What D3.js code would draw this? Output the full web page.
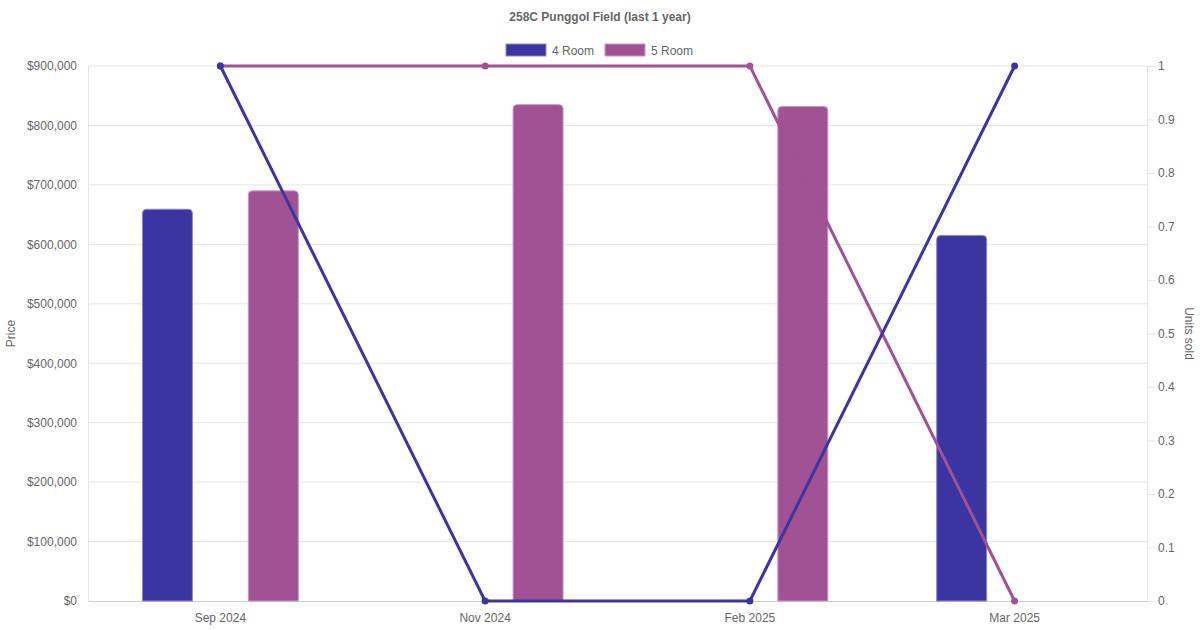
<!DOCTYPE html>
<html><head><meta charset="utf-8">
<script src="https://cdn.jsdelivr.net/npm/d3@7"></script>
<style>
html,body{margin:0;padding:0;background:#fff;}
text{font-family:"Liberation Sans",Arial,Helvetica,sans-serif;}
</style></head>
<body><svg id="chart" width="1200" height="630"></svg>
<script>
const title = "258C Punggol Field (last 1 year)";
const categories = ["Sep 2024", "Nov 2024", "Feb 2025", "Mar 2025"];
const seriesNames = ["4 Room", "5 Room"];
const price4Room = [659000, null, null, 615000];
const price5Room = [690000, 835000, 832000, null];
const units4Room = [1, 0, 0, 1];
const units5Room = [1, 1, 1, 0];
const priceTicks = [0,100000,200000,300000,400000,500000,600000,700000,800000,900000];
const unitTicks = [0,0.1,0.2,0.3,0.4,0.5,0.6,0.7,0.8,0.9,1];
const colors = ["#3a35a0", "#a05294"];
const borderColors = ["#8d89cc", "#c99bc1"];

const svg = d3.select("#chart");
const pL = 88, pR = 1147, pT = 66, pB = 601;

const x = d3.scaleBand().domain(categories).range([pL, pR]).padding(0);
const yP = d3.scaleLinear().domain([0, 900000]).range([pB, pT]);
const yU = d3.scaleLinear().domain([0, 1]).range([pB, pT]);
const group = d3.scaleBand().domain(seriesNames).range([0, x.bandwidth()*0.8]);
const barW = Math.min(group.bandwidth()*0.9, 50);

// grid lines
svg.append("g").selectAll("line").data(priceTicks.slice(1)).join("line")
  .attr("x1", pL).attr("x2", pR)
  .attr("y1", d=>yP(d)).attr("y2", d=>yP(d))
  .attr("stroke", "#e5e5e5").attr("stroke-width", 1);

// left axis
const axL = svg.append("g").attr("transform", `translate(${pL},0)`)
  .call(d3.axisLeft(yP).tickValues(priceTicks).tickSize(0).tickPadding(11)
    .tickFormat(d => "$" + d3.format(",")(d)));
axL.select(".domain").attr("stroke", "#e5e5e5");
axL.selectAll("text").attr("fill", "#666").attr("font-size", 12);

// right axis
const axR = svg.append("g").attr("transform", `translate(${pR},0)`)
  .call(d3.axisRight(yU).tickValues(unitTicks).tickSize(8).tickPadding(3)
    .tickFormat(d => d3.format("~g")(d)));
axR.select(".domain").attr("stroke", "#e5e5e5");
axR.selectAll("line").attr("stroke", "#e5e5e5");
axR.selectAll("text").attr("fill", "#666").attr("font-size", 12);

// bottom axis
const axB = svg.append("g").attr("transform", `translate(0,${pB})`)
  .call(d3.axisBottom(x).tickSize(0).tickPadding(12));
axB.select(".domain").attr("stroke", "#cccccc");
axB.selectAll("text").attr("fill", "#666").attr("font-size", 12);

// axis titles
svg.append("text").attr("transform", `translate(15,${(pT+pB)/2}) rotate(-90)`)
  .attr("text-anchor", "middle").attr("fill", "#666").attr("font-size", 12).text("Price");
svg.append("text").attr("transform", `translate(1185,${(pT+pB)/2}) rotate(90)`)
  .attr("text-anchor", "middle").attr("fill", "#666").attr("font-size", 12).text("Units sold");

// bars
function roundTopPath(x0, y0, w, h, r) {
  r = Math.min(r, h, w/2);
  return `M${x0},${y0+h} L${x0},${y0+r} Q${x0},${y0} ${x0+r},${y0} L${x0+w-r},${y0} Q${x0+w},${y0} ${x0+w},${y0+r} L${x0+w},${y0+h} Z`;
}
[price4Room, price5Room].forEach((vals, si) => {
  const data = categories.map((c,i)=>({c, v: vals[i]})).filter(d=>d.v!=null);
  svg.append("g").selectAll("path").data(data).join("path")
    .attr("d", d => {
      const cx = x(d.c) + x.bandwidth()*0.1 + group(seriesNames[si]) + group.bandwidth()/2;
      return roundTopPath(cx - barW/2, yP(d.v), barW, pB - yP(d.v), 4);
    })
    .attr("fill", colors[si]).attr("stroke", borderColors[si]).attr("stroke-width", 1);
});

// lines (5 Room first so 4 Room is drawn on top)
[[units5Room, 1], [units4Room, 0]].forEach(([vals, si]) => {
  const pts = categories.map((c,i)=>[x(c)+x.bandwidth()/2, yU(vals[i])]);
  svg.append("path").datum(pts)
    .attr("d", d3.line())
    .attr("fill", "none").attr("stroke", colors[si]).attr("stroke-width", 3);
  svg.append("g").selectAll("circle").data(pts).join("circle")
    .attr("cx", d=>d[0]).attr("cy", d=>d[1]).attr("r", 3.5)
    .attr("fill", colors[si]);
});

// title
svg.append("text").attr("x", 600).attr("y", 21).attr("text-anchor", "middle")
  .attr("font-weight", "bold").attr("font-size", 12).attr("fill", "#666").text(title);

// legend
const legX = [506, 605];
seriesNames.forEach((n, i) => {
  svg.append("rect").attr("x", legX[i]).attr("y", 44).attr("width", 40).attr("height", 12)
    .attr("fill", colors[i]).attr("stroke", borderColors[i]).attr("stroke-width", 1);
  svg.append("text").attr("x", legX[i]+46).attr("y", 54.5).attr("font-size", 12)
    .attr("fill", "#666").text(n);
});
</script></body></html>
